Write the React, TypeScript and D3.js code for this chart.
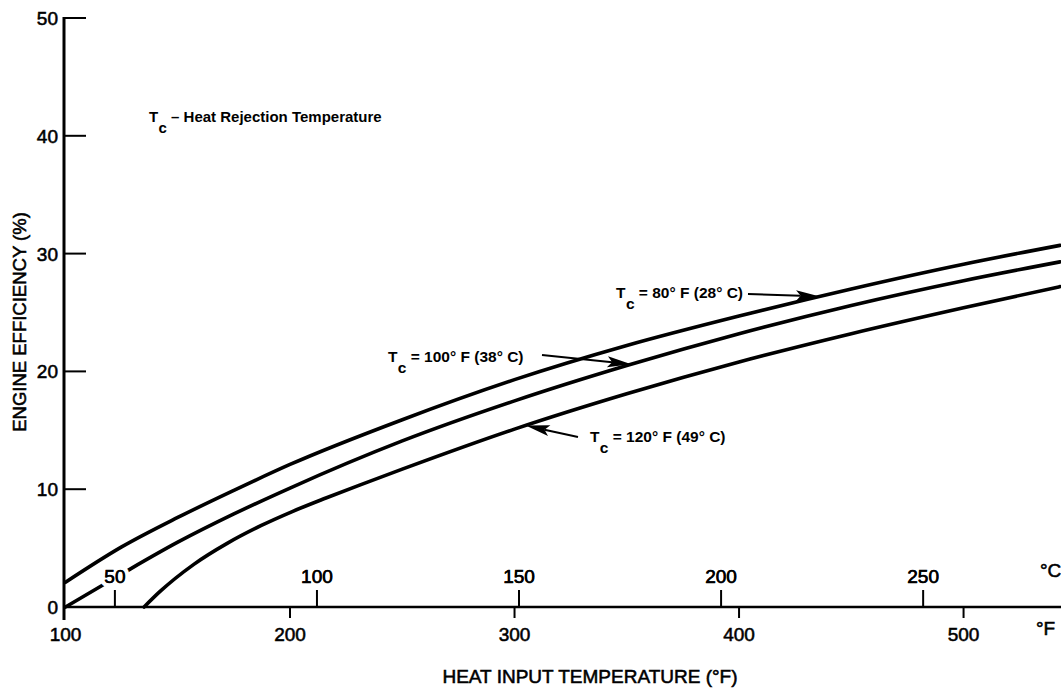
import React from "react";
import * as d3 from "d3";

// Heat input temperature (°F) sample points
const tempF = [100, 125, 150, 175, 200, 250, 300, 350, 400, 450, 500, 543];
// Tc = 80°F (28°C)
const eff80 = [2.1, 5.1, 7.6, 9.9, 12.1, 15.9, 19.3, 22.2, 24.7, 27.0, 29.1, 30.7];
// Tc = 100°F (38°C)
const eff100 = [0, 2.8, 5.5, 7.9, 10.1, 14.1, 17.5, 20.5, 23.2, 25.6, 27.7, 29.3];
// Tc = 120°F (49°C)
const tempF120 = [135, 142, 157, 172, 187, 201, 216, 231, 250, 300, 350, 400, 450, 500, 543];
const eff120 = [0, 1.3, 3.6, 5.4, 6.9, 8.1, 9.25, 10.35, 11.7, 15.1, 18.1, 20.8, 23.2, 25.4, 27.2];

const yTicks = [0, 10, 20, 30, 40, 50];
const fTicks = [100, 200, 300, 400, 500];
const cTicks = [50, 100, 150, 200, 250];

const curveLabels = [
  { main: " = 80° F (28° C)", tipF: 436, series: 0 },
  { main: " = 100° F (38° C)", tipF: 352, series: 1 },
  { main: " = 120° F (49° C)", tipF: 305, series: 2 },
];

const W = 1061;
const H = 689;
const FONT = "'Liberation Sans', Arial, Helvetica, sans-serif";

export default function App() {
  const x = d3.scaleLinear().domain([100, 543.4]).range([65.5, 1061]);
  const y = d3.scaleLinear().domain([0, 50]).range([607, 18]);
  const line = d3
    .line<[number, number]>()
    .x((d) => x(d[0]))
    .y((d) => y(d[1]))
    .curve(d3.curveMonotoneX);

  const series: [number, number][][] = [
    tempF.map((t, i) => [t, eff80[i]]),
    tempF.map((t, i) => [t, eff100[i]]),
    tempF120.map((t, i) => [t, eff120[i]]),
  ];
  const interp = (s: [number, number][], f: number) => {
    const xs = s.map((d) => d[0]);
    const ys = s.map((d) => d[1]);
    const i = Math.max(1, d3.bisectLeft(xs, f));
    const t = (f - xs[i - 1]) / (xs[i] - xs[i - 1]);
    return ys[i - 1] + t * (ys[i] - ys[i - 1]);
  };
  const tips = curveLabels.map((c) => [
    x(c.tipF),
    y(interp(series[c.series], c.tipF)),
  ]);

  const c2f = (c: number) => (c * 9) / 5 + 32;

  const arrow = (x1: number, y1: number, x2: number, y2: number, key: string) => {
    const ang = Math.atan2(y2 - y1, x2 - x1);
    const L = 24;
    const Wd = 5.5;
    const bx = x2 - L * Math.cos(ang);
    const by = y2 - L * Math.sin(ang);
    const px = -Math.sin(ang) * Wd;
    const py = Math.cos(ang) * Wd;
    const nx = bx + (x2 - bx) * 0.2;
    const ny = by + (y2 - by) * 0.2;
    return (
      <g key={key}>
        <line x1={x1} y1={y1} x2={nx} y2={ny} stroke="#000" strokeWidth={2} />
        <polygon
          points={`${x2},${y2} ${bx + px},${by + py} ${nx},${ny} ${bx - px},${by - py}`}
          fill="#000"
        />
      </g>
    );
  };

  const tcText = (
    tx: number,
    ty: number,
    rest: string,
    anchor: "start" | "end",
    size: number,
    key: string
  ) => (
    <text
      key={key}
      x={tx}
      y={ty}
      textAnchor={anchor}
      fontSize={size}
      fontWeight="bold"
      fontFamily={FONT}
    >
      <tspan>T</tspan>
      <tspan dy={size * 0.7} dx={1.5}>c</tspan>
      <tspan dy={-size * 0.7}>{rest}</tspan>
    </text>
  );

  const thick = { stroke: "#000", strokeWidth: 0.55 };

  return (
    <svg
      width={W}
      height={H}
      style={{ position: "absolute", left: 0, top: 0, background: "#fff" }}
    >
      <rect x={0} y={0} width={W} height={H} fill="#fff" />
      {/* curves */}
      {series.map((s, i) => (
        <path
          key={i}
          d={line(s) || ""}
          fill="none"
          stroke="#000"
          strokeWidth={3.6}
          strokeLinecap="round"
        />
      ))}

      {/* Y axis */}
      <line x1={64} x2={64} y1={y(50) - 1} y2={620} stroke="#000" strokeWidth={3} />
      {yTicks.map((t) => (
        <g key={t}>
          {t > 0 && (
            <line x1={64} x2={86} y1={y(t)} y2={y(t)} stroke="#000" strokeWidth={2} />
          )}
          <text
            x={58}
            y={y(t) + 7}
            textAnchor="end"
            fontSize={19}
            fontFamily={FONT}
            {...thick}
          >
            {t}
          </text>
        </g>
      ))}
      <text
        transform={`translate(26, ${322}) rotate(-90)`}
        textAnchor="middle"
        fontSize={18.5}
        fontFamily={FONT}
        {...thick}
      >
        ENGINE EFFICIENCY (%)
      </text>

      {/* X axis */}
      <line x1={63} x2={1061} y1={607} y2={607} stroke="#000" strokeWidth={2.5} />
      {fTicks.map((t) => (
        <g key={"f" + t}>
          {t > 100 && (
            <line x1={x(t)} x2={x(t)} y1={607} y2={618} stroke="#000" strokeWidth={2} />
          )}
          <text
            x={x(t)}
            y={641}
            textAnchor="middle"
            fontSize={19}
            fontFamily={FONT}
            {...thick}
          >
            {t}
          </text>
        </g>
      ))}
      {cTicks.map((t) => (
        <g key={"c" + t}>
          <line x1={x(c2f(t))} x2={x(c2f(t))} y1={607} y2={590} stroke="#000" strokeWidth={2} />
          <text
            x={x(c2f(t))}
            y={583}
            textAnchor="middle"
            fontSize={19}
            fontFamily={FONT}
            stroke="#fff"
            strokeWidth={9}
            strokeLinejoin="round"
            style={{ paintOrder: "stroke" }}
            fill="#000"
          >
            {t}
          </text>
          <text
            x={x(c2f(t))}
            y={583}
            textAnchor="middle"
            fontSize={19}
            fontFamily={FONT}
            fill="#000"
            {...thick}
          >
            {t}
          </text>
        </g>
      ))}
      <text x={1040} y={577} fontSize={19} fontFamily={FONT} {...thick}>
        °C
      </text>
      <text x={1036} y={635} fontSize={19} fontFamily={FONT} {...thick}>
        °F
      </text>
      <text
        x={590}
        y={683}
        textAnchor="middle"
        fontSize={19}
        fontFamily={FONT}
        {...thick}
      >
        HEAT INPUT TEMPERATURE (°F)
      </text>

      {/* legend note */}
      {tcText(149, 122, " – Heat Rejection Temperature", "start", 15, "legend")}

      {/* curve annotations */}
      {tcText(743, 298, curveLabels[0].main, "end", 15.5, "a0")}
      {arrow(748, 294, tips[0][0], tips[0][1], "ar0")}
      {tcText(388, 362, curveLabels[1].main, "start", 15.5, "a1")}
      {arrow(542, 355, tips[1][0], tips[1][1], "ar1")}
      {tcText(590, 442, curveLabels[2].main, "start", 15.5, "a2")}
      {arrow(578, 437, tips[2][0], tips[2][1], "ar2")}
    </svg>
  );
}
